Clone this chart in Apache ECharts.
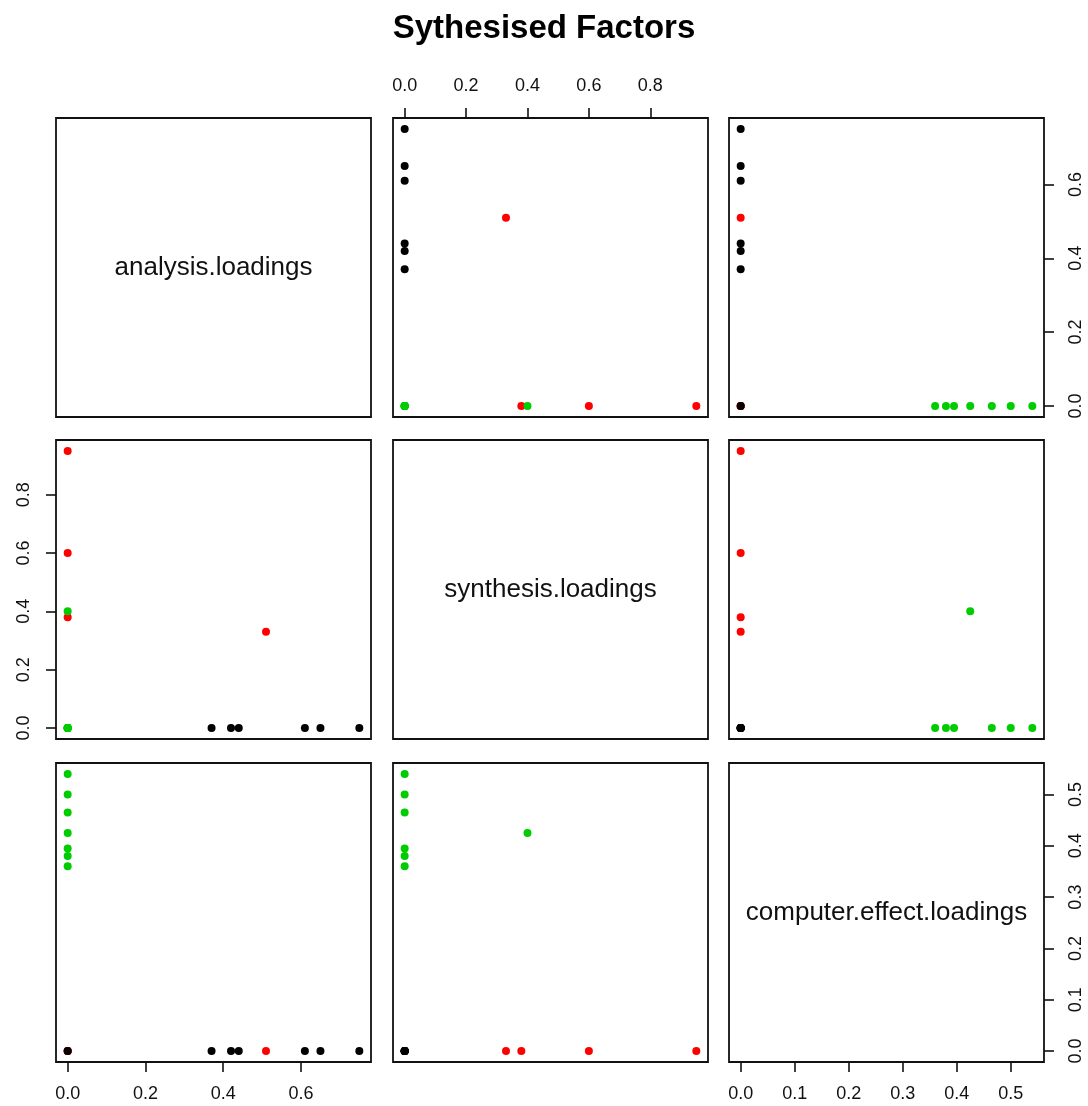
<!DOCTYPE html>
<html>
<head>
<meta charset="utf-8">
<script src="https://cdn.jsdelivr.net/npm/echarts@6/dist/echarts.min.js"></script>
<style>
html,body{margin:0;padding:0;background:#fff;}
#chart{width:1088px;height:1106px;}
</style>
</head>
<body>
<div id="chart"></div>
<script>
// ---- data ----
const chartTitle = 'Sythesised Factors';
const variableNames = ['analysis.loadings', 'synthesis.loadings', 'computer.effect.loadings'];
// item groups (colour of each point)
const itemGroups = [
  'analysis', 'analysis', 'analysis', 'analysis', 'analysis', 'analysis',
  'synthesis', 'synthesis', 'synthesis', 'synthesis',
  'analysis',
  'computer', 'computer', 'computer', 'computer', 'computer', 'computer', 'computer'
];
const analysisLoadings = [0.75, 0.65, 0.61, 0.44, 0.42, 0.37, 0, 0, 0, 0.51, 0, 0, 0, 0, 0, 0, 0, 0];
const synthesisLoadings = [0, 0, 0, 0, 0, 0, 0.95, 0.60, 0.38, 0.33, 0, 0, 0, 0, 0.40, 0, 0, 0];
const computerLoadings = [0, 0, 0, 0, 0, 0, 0, 0, 0, 0, 0, 0.54, 0.50, 0.465, 0.425, 0.395, 0.38, 0.36];
const analysisTicks = [0, 0.2, 0.4, 0.6];
const synthesisTicks = [0, 0.2, 0.4, 0.6, 0.8];
const computerTicks = [0, 0.1, 0.2, 0.3, 0.4, 0.5];

// ---- styling / layout ----
const groupOrder = ['synthesis', 'analysis', 'computer'];   // draw order
const groupColors = { analysis: '#000000', synthesis: '#ff0000', computer: '#00cd00' };
const colLeft = [56, 393, 729];
const rowTop = [118, 440, 763];
const cellW = 315, cellH = 299;
const fontFamily = '"Liberation Sans", Arial, Helvetica, sans-serif';

const values = [analysisLoadings, synthesisLoadings, computerLoadings];
const ticks = [analysisTicks, synthesisTicks, computerTicks];
const ranges = values.map(v => {
  const lo = Math.min(...v), hi = Math.max(...v), pad = (hi - lo) * 0.04;
  return [lo - pad, hi + pad];
});

const grids = [], xAxes = [], yAxes = [], series = [], graphics = [];
let g = 0;
for (let r = 0; r < 3; r++) {
  for (let c = 0; c < 3; c++) {
    grids.push({
      left: colLeft[c], top: rowTop[r], width: cellW, height: cellH,
      show: true, borderColor: '#111', borderWidth: 1.8, backgroundColor: '#fff',
      containLabel: false
    });
    let xPos = 'bottom', xShow = false;
    if (r === 2 && (c === 0 || c === 2)) { xPos = 'bottom'; xShow = true; }
    if (r === 0 && c === 1) { xPos = 'top'; xShow = true; }
    let yPos = 'left', yShow = false;
    if (c === 0 && r === 1) { yPos = 'left'; yShow = true; }
    if (c === 2 && (r === 0 || r === 2)) { yPos = 'right'; yShow = true; }
    xAxes.push({
      type: 'value', gridIndex: g, position: xPos,
      min: ranges[c][0], max: ranges[c][1],
      axisLine: { show: false, onZero: false },
      splitLine: { show: false },
      axisTick: { show: xShow, inside: false, customValues: ticks[c], length: 10, lineStyle: { color: '#111', width: 1.6 } },
      axisLabel: {
        show: xShow, customValues: ticks[c], margin: 23,
        formatter: v => v.toFixed(1),
        color: '#111', fontSize: 18, fontFamily: fontFamily
      }
    });
    yAxes.push({
      type: 'value', gridIndex: g, position: yPos,
      min: ranges[r][0], max: ranges[r][1],
      axisLine: { show: false, onZero: false },
      splitLine: { show: false },
      axisTick: { show: yShow, inside: false, customValues: ticks[r], length: 10, lineStyle: { color: '#111', width: 1.6 } },
      axisLabel: {
        show: yShow, customValues: ticks[r], margin: 23, rotate: 90,
        formatter: v => v.toFixed(1),
        color: '#111', fontSize: 18, fontFamily: fontFamily
      }
    });
    if (r === c) {
      graphics.push({
        type: 'text',
        x: colLeft[c] + cellW / 2, y: rowTop[r] + cellH / 2,
        style: {
          text: variableNames[r], fill: '#111',
          font: '26px ' + fontFamily,
          textAlign: 'center', textVerticalAlign: 'middle'
        },
        z: 100
      });
    } else {
      groupOrder.forEach(grp => {
        const data = [];
        itemGroups.forEach((ig, i) => {
          if (ig === grp) data.push([values[c][i], values[r][i]]);
        });
        series.push({
          type: 'scatter', xAxisIndex: g, yAxisIndex: g,
          data: data, symbol: 'circle', symbolSize: 8,
          itemStyle: { color: groupColors[grp], opacity: 1 },
          silent: true, animation: false
        });
      });
    }
    g++;
  }
}

const chart = echarts.init(document.getElementById('chart'), null, { renderer: 'canvas' });
chart.setOption({
  backgroundColor: '#fff',
  animation: false,
  title: {
    text: chartTitle, left: 'center', top: 7,
    textStyle: { fontSize: 33, fontWeight: 'bold', color: '#000', fontFamily: fontFamily }
  },
  grid: grids,
  xAxis: xAxes,
  yAxis: yAxes,
  series: series,
  graphic: graphics
});
</script>
</body>
</html>
